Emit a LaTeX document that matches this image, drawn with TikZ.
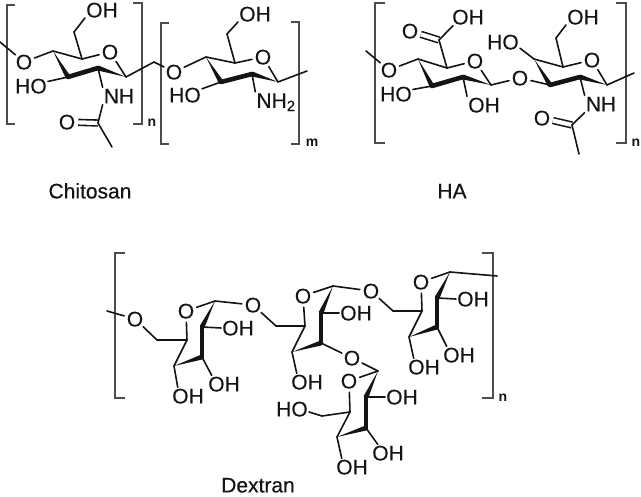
\documentclass[tikz,border=0pt]{standalone}
\usepackage{fontspec}
\setmainfont{Liberation Sans}
\newfontfamily\atomfont[FakeBold=0.4]{Liberation Sans}
\usetikzlibrary{calc}
\definecolor{mbond}{rgb}{0.08, 0.08, 0.08}
\tikzset{bond/.style = {line width=1.6pt, mbond, line cap=round},
         bold/.style = {line width=4.6pt, mbond, line cap=round},
         dbl/.style = {line width=1.6pt, mbond, double, double distance=4.2pt},
         bracket/.style = {line width=1.5pt, black!70},
         ox/.style = {circle, inner sep=0pt, font=\fontsize{21}{21}\atomfont, text height=14.8pt, text depth=0pt, text=mbond},
         lab/.style = {inner sep=1pt, font=\fontsize{21}{21}\atomfont, text height=14.8pt, text depth=0pt, text=mbond},
         idx/.style = {inner sep=0pt, font=\fontsize{14}{14}\selectfont\bfseries, text=mbond}}
\newcommand{\wedgebond}[2]{\fill [mbond] (#1) -- ($(#2)!2.5pt!90:(#1)$) -- ($(#2)!2.5pt!-90:(#1)$) -- cycle;}

\begin{document}
\begin{tikzpicture}[x=1pt, y=-1pt]
      \useasboundingbox (0, 0) rectangle (641, 497);

      \foreach \n/\x/\y in {
        ca0/0/42, ca1/126/77, ca2/98/68, ca3/68/77, ca4/53/51, ca5/82/59, ca6/74/32,
        caa/98/123, cam/112/147, cal/154/62,
        cb1/278/82, cb2/252/74, cb3/221/82, cb4/206/57, cb5/235/63, cb6/227/34, cb0/307/71,
        ha0/366/51, ha1/491/85, ha2/463/77, ha3/432/86, ha4/418/59, ha5/447/68, ha6/439/40,
        hb1/607/85, hb2/580/77, hb3/550/85, hb4/534/59, hb5/563/67, hb6/556/38, hb0/634/73,
        hba/572/125, hbm/579/154,
        da0/107/311, da1/215/301, da2/202/327, da3/202/357, da4/174/366, da5/187/340, da6/157/340,
        db1/333/286, db2/321/313, db3/321/343, db4/292/352, db5/305/326, db6/276/326,
        dc1/450/272, dc2/437/298, dc3/437/327, dc4/409/337, dc5/422/311, dc6/393/311, dc0/497/276,
        dd1/378/371, dd2/366/397, dd3/366/428, dd4/337/437, dd5/350/412, dd6/322/416}
        \coordinate (\n) at (\x, \y);

      \foreach \n/\x/\y in {
        cao/110/52, caol/24/62, caoc/67/122, cal2/174/72, cbo/263/57,
        hao/475/61, haol/389/70, haoc/410/31, hal/520/78, hbo/592/60, hboc/542/118,
        dao/186/311, daol/135/319, dal/253/305, dbo/303/296, dbl/371/291,
        dbd/352/358, dco/421/282, ddo/349/381}
        \node [ox] (\n) at (\x, \y) {O};

      \foreach \n/\x/\y/\txt in {
        caoh/102/10/OH, caho/31/86/HO, canh/119/96/NH,
        cboh/255/14/OH, cbho/185/95/HO,
        haoh/468/17/OH, haho/396/94/HO, haoh2/484/105/OH,
        hbho/503/42/HO, hboh/583/17/OH, hbnh/601/104/NH,
        daoh2/238/328/OH, daoh3/224/384/OH, daoh4/188/396/OH,
        dboh2/356/313/OH, dboh4/307/382/OH,
        dcoh2/473/299/OH, dcoh3/459/355/OH, dcoh4/424/367/OH,
        ddho/292/409/HO, ddoh2/402/397/OH, ddoh3/388/453/OH, ddoh4/352/467/OH}
        \node [lab] (\n) at (\x, \y) {\txt};
      \node [lab] (cbnh) at (276, 100.5) {NH\textsubscript{2}};

      \node [lab] (chitosan) at (90, 191) {Chitosan};
      \node [lab] (hyal) at (452, 191) {HA};
      \node [lab] (dextran) at (258, 485) {Dextran};
      \node [idx] (nch) at (152, 123) {n};
      \node [idx] (mch) at (312, 143) {m};
      \node [idx] (nha) at (636, 143) {n};
      \node [idx] (ndx) at (503, 398) {n};

      \draw [bracket] (15, 5) -- (7, 5) -- (7, 124) -- (15, 124);
      \draw [bracket] (133, 3) -- (142, 3) -- (142, 124) -- (133, 124);
      \draw [bracket] (169, 23) -- (161, 23) -- (161, 144) -- (169, 144);
      \draw [bracket] (291, 22) -- (299, 22) -- (299, 144) -- (291, 144);
      \draw [bracket] (385, 3) -- (375, 3) -- (375, 143) -- (385, 143);
      \draw [bracket] (616, 3) -- (626, 3) -- (626, 143) -- (616, 143);
      \draw [bracket] (125, 253) -- (115, 253) -- (115, 398) -- (125, 398);
      \draw [bracket] (482, 253) -- (493, 253) -- (493, 398) -- (482, 398);

      \draw [dbl] (caoc) -- (caa);
      \draw [dbl] (haoc) -- (ha6);
      \draw [dbl] (hboc) -- (hba);

      \foreach \a/\b in {
        ca0/caol, caol/ca4, ca4/ca5, ca5/cao, cao/ca1, ca5/ca6, ca6/caoh.205, ca3/caho.15,
        ca2/canh.north west, canh.south west/caa, caa/cam, ca1/cal, cal/cal2, cal2/cb4,
        cb4/cb5, cb5/cbo, cbo/cb1, cb5/cb6, cb6/cboh.205, cb3/cbho.20,
        cb2/cbnh.north west, cb1/cb0,
        ha0/haol, haol/ha4, ha4/ha5, ha5/hao, hao/ha1, ha5/ha6, ha6/haoh.210, ha3/haho.15,
        ha2/haoh2.north west, ha1/hal, hal/hb3,
        hb4/hb5, hb5/hbo, hbo/hb1, hb4/hbho.340, hb5/hb6, hb6/hboh.205,
        hb2/hbnh.north west, hbnh.south west/hba, hba/hbm, hb1/hb0,
        da0/daol, daol/da6, da6/da5, da5/dao, dao/da1, da5/da4, da1/dal, dal/db6, db6/db5,
        da2/daoh2.west, da3/daoh3.145, da4/daoh4.140,
        db5/dbo, dbo/db1, db5/db4, db1/dbl, dbl/dc6, dc6/dc5,
        db2/dboh2.west, db4/dboh4.140, db3/dbd, dbd/dd1,
        dc5/dco, dco/dc1, dc5/dc4, dc1/dc0,
        dc2/dcoh2.west, dc3/dcoh3.145, dc4/dcoh4.140,
        dd1/ddo, ddo/dd5, dd5/dd4, dd5/dd6, dd6/ddho.350,
        dd2/ddoh2.west, dd3/ddoh3.140, dd4/ddoh4.140}
        \draw [bond] (\a) -- (\b);

      \foreach \a/\b in {ca3/ca2, cb3/cb2, ha3/ha2, hb3/hb2, da2/da3, db2/db3, dc2/dc3, dd2/dd3}
        \draw [bold] (\a) -- (\b);

      \foreach \a/\b in {
        ca4/ca3, ca1/ca2, cb4/cb3, cb1/cb2, ha4/ha3, ha1/ha2, hb4/hb3, hb1/hb2,
        da1/da2, da4/da3, db1/db2, db4/db3, dc1/dc2, dc4/dc3, dd1/dd2, dd4/dd3} {
        \wedgebond{\a}{\b}
      }
    \end{tikzpicture}
\end{document}
